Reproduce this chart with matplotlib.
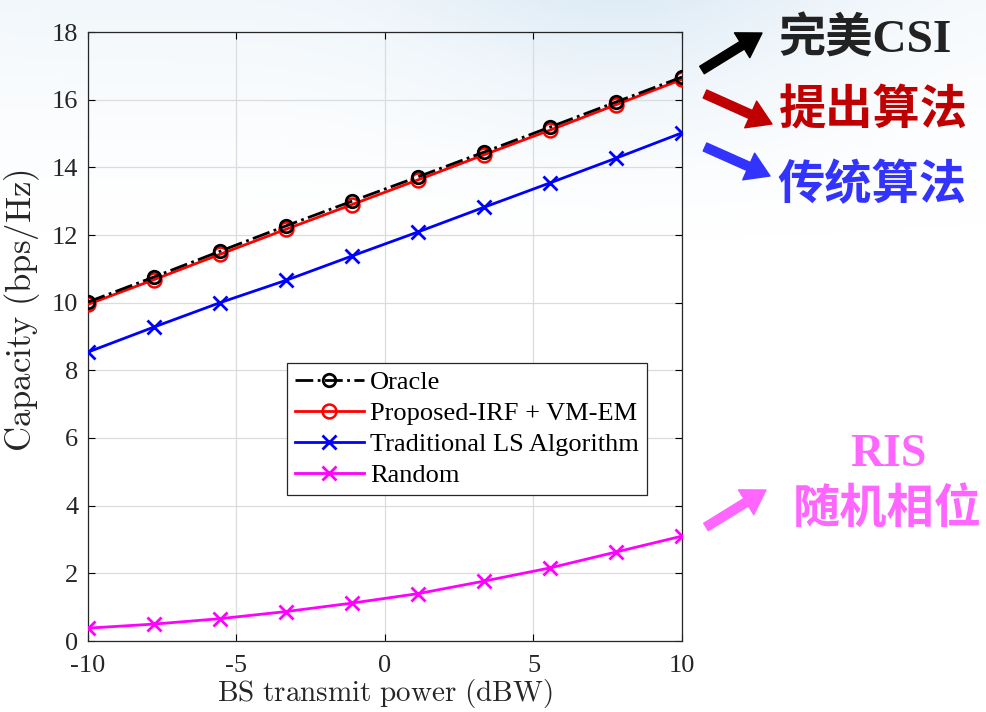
import numpy as np
import matplotlib
matplotlib.use("Agg")
import matplotlib.pyplot as plt

plt.rcParams["mathtext.fontset"] = "cm"

# transmit power sweep (dBW) and capacity of each scheme (bps/Hz)
power_dbw = np.linspace(-10, 10, 10)
oracle = [10.02, 10.76, 11.52, 12.27, 13.00, 13.72, 14.45, 15.19, 15.93, 16.67]
proposed = [9.95, 10.68, 11.43, 12.17, 12.90, 13.63, 14.37, 15.10, 15.85, 16.60]
traditional_ls = [8.54, 9.28, 10.00, 10.66, 11.38, 12.09, 12.82, 13.54, 14.27, 15.02]
random_phase = [0.38, 0.50, 0.66, 0.87, 1.12, 1.40, 1.77, 2.16, 2.63, 3.10]

legend_labels = ["Oracle", "Proposed-IRF + VM-EM", "Traditional LS Algorithm", "Random"]
x_ticks = [-10, -5, 0, 5, 10]
y_ticks = list(range(0, 19, 2))

serif = ["Liberation Serif", "DejaVu Serif"]
cjk = ["Liberation Serif", "Noto Sans CJK SC", "DejaVu Sans"]
ink = "#262626"

fig = plt.figure(figsize=(9.86, 7.12), dpi=100)
fig.patch.set_facecolor("white")

# faint slide backdrop: pale blue clouds near the top edge
bg = fig.add_axes([0, 0, 1, 1], zorder=0)
rows = np.linspace(0, 1, 200)[:, None]
cols = np.linspace(0, 1, 300)[None, :]
fade = np.clip(1 - rows / 0.35, 0, 1) ** 1.6
cloud = np.clip(0.35 + 0.65 * np.exp(-((cols - 0.55) / 0.3) ** 2), 0, 1)
cloud = cloud * (0.8 + 0.2 * np.cos(cols * 9.0))
img = np.ones((200, 300, 4))
img[..., 0] = 0.78
img[..., 1] = 0.87
img[..., 2] = 0.94
img[..., 3] = np.clip(fade * cloud * 0.6, 0, 1)
bg.imshow(img, extent=[0, 1, 0, 1], aspect="auto", origin="upper")
bg.axis("off")

ax = fig.add_axes([88 / 986, 71 / 712, 594 / 986, 609 / 712], zorder=2)
ax.set_facecolor("none")

ax.plot(power_dbw, oracle, color="black", linestyle="-.", linewidth=2,
        marker="o", markersize=9, markerfacecolor="none", markeredgewidth=2,
        label=legend_labels[0], zorder=4)
ax.plot(power_dbw, proposed, color="red", linestyle="-", linewidth=2,
        marker="o", markersize=10, markerfacecolor="none", markeredgewidth=1.8,
        label=legend_labels[1], zorder=3)
ax.plot(power_dbw, traditional_ls, color="blue", linestyle="-", linewidth=2,
        marker="x", markersize=10, markeredgewidth=2,
        label=legend_labels[2], zorder=3)
ax.plot(power_dbw, random_phase, color="magenta", linestyle="-", linewidth=2,
        marker="x", markersize=10, markeredgewidth=2,
        label=legend_labels[3], zorder=3)

ax.set_xlim(-10, 10)
ax.set_ylim(0, 18)
ax.set_xticks(x_ticks)
ax.set_xticklabels([str(t) for t in x_ticks])
ax.set_yticks(y_ticks)
ax.tick_params(direction="in", length=5, width=0.8, top=True, right=True,
               labelsize=19)
ax.tick_params(axis="x", pad=10)
ax.tick_params(axis="y", pad=7)
for lab in ax.get_xticklabels() + ax.get_yticklabels():
    lab.set_family(serif)
    lab.set_color(ink)
ax.grid(True, color="#dcdcdc", linewidth=0.9)
for sp in ax.spines.values():
    sp.set_color(ink)
    sp.set_linewidth(0.9)

ax.set_xlabel(r"$\mathrm{BS\ transmit\ power\ (dBW)}$", fontsize=21,
              color=ink, labelpad=0)
ax.set_ylabel(r"$\mathrm{Capacity\ (bps/Hz)}$", fontsize=25, color=ink)
ax.yaxis.set_label_coords(-0.078, 0.542)

leg = ax.legend(loc="lower left", bbox_to_anchor=(0.335, 0.24),
                prop={"family": serif, "size": 19}, handlelength=2.6,
                handletextpad=0.25, labelspacing=0.28, borderpad=0.3,
                borderaxespad=0, fancybox=False, framealpha=1, edgecolor=ink)
leg.get_frame().set_linewidth(0.9)

# annotations with arrows, drawn in pixel coordinates over the whole figure
ov = fig.add_axes([0, 0, 1, 1], zorder=5)
ov.set_xlim(0, 986)
ov.set_ylim(712, 0)
ov.axis("off")
ov.patch.set_alpha(0)

arrows = [
    ((702, 70), (762, 33), "black"),
    ((705, 94), (772, 124), "#c00000"),
    ((705, 147), (770, 176), "#3333ff"),
    ((706, 527), (766, 490), "#ff66ff"),
]
for (x0, y0), (x1, y1), c in arrows:
    ov.annotate("", xy=(x1, y1), xytext=(x0, y0),
                arrowprops=dict(arrowstyle="simple,head_length=1.2,head_width=1.5,tail_width=0.45",
                                color=c, shrinkA=0, shrinkB=0, mutation_scale=14))

ov.text(778, 40, "完美CSI", family=cjk, fontsize=34, fontweight="bold",
        color="#222222", va="center", ha="left")
ov.text(779, 112, "提出算法", family=cjk, fontsize=34, fontweight="bold",
        color="#c00000", va="center", ha="left")
ov.text(777, 186, "传统算法", family=cjk, fontsize=34, fontweight="bold",
        color="#3333ff", va="center", ha="left")
ov.text(888, 455, "RIS", family=serif, fontsize=33, fontweight="bold",
        color="#ff66ff", va="center", ha="center")
ov.text(887, 511, "随机相位", family=cjk, fontsize=34, fontweight="bold",
        color="#ff66ff", va="center", ha="center")

fig.savefig("out.png", dpi=100)
